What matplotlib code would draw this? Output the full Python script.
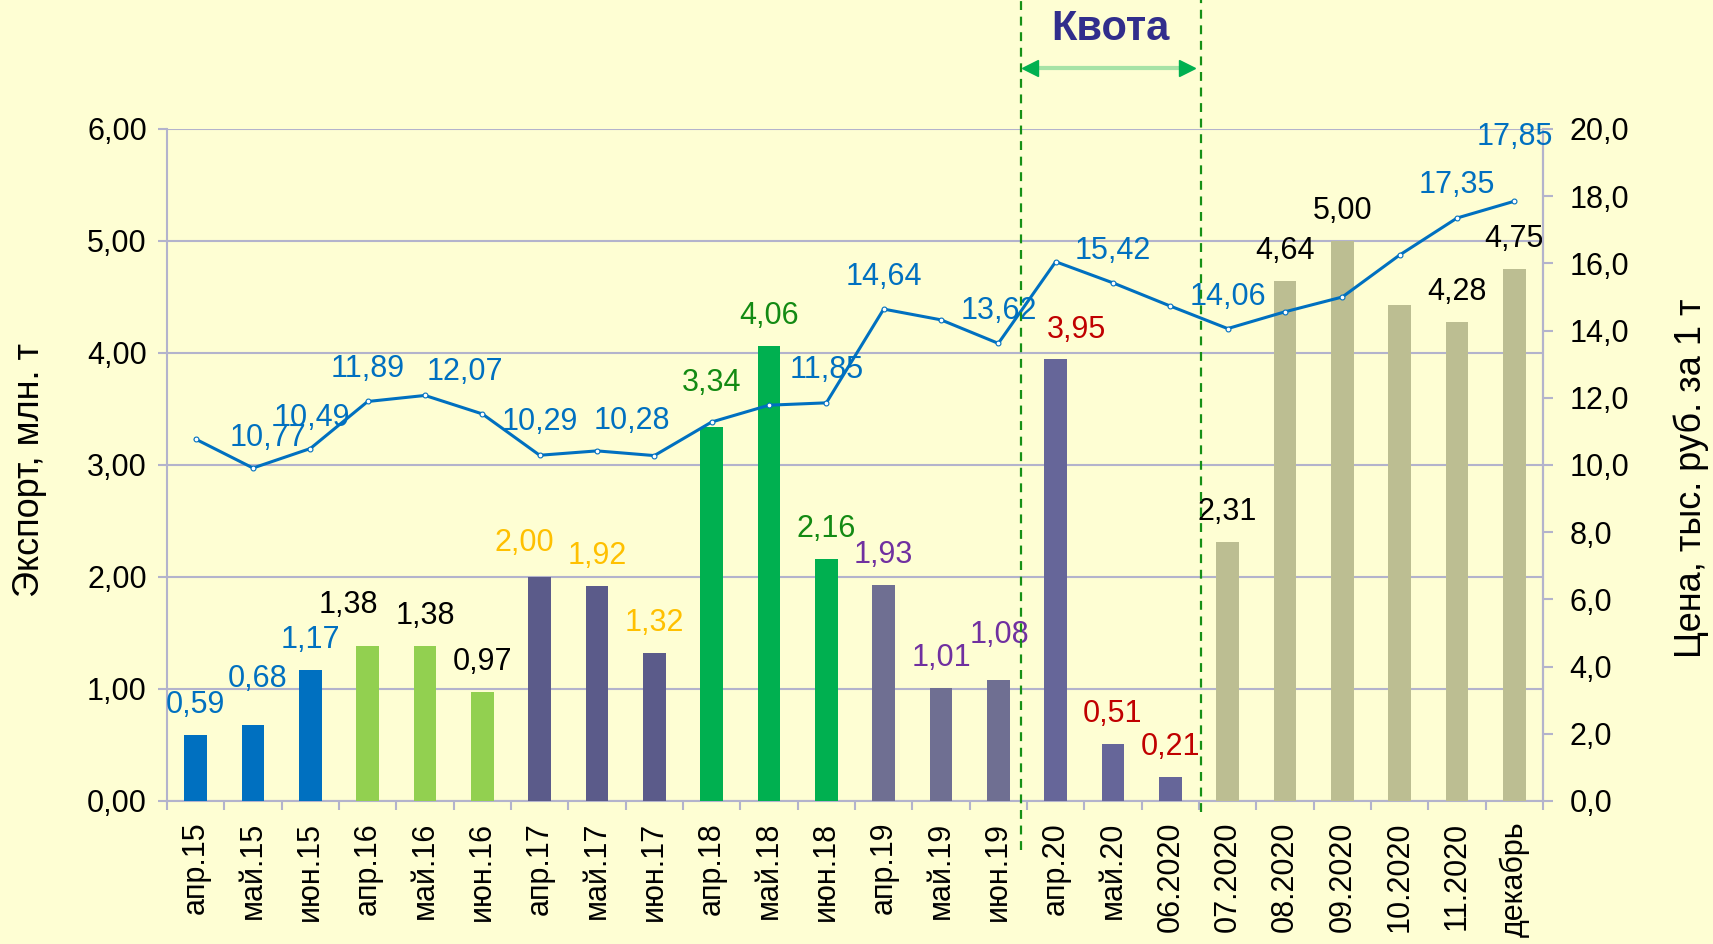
import matplotlib
matplotlib.use("Agg")
import matplotlib.pyplot as plt
from matplotlib.lines import Line2D
from matplotlib.transforms import blended_transform_factory
from matplotlib.ticker import FuncFormatter

plt.rcParams['font.family'] = ['Liberation Sans', 'DejaVu Sans']

# ---------------- data ----------------
categories = ["апр.15", "май.15", "июн.15", "апр.16", "май.16", "июн.16",
              "апр.17", "май.17", "июн.17", "апр.18", "май.18", "июн.18",
              "апр.19", "май.19", "июн.19", "апр.20", "май.20", "06.2020",
              "07.2020", "08.2020", "09.2020", "10.2020", "11.2020", "декабрь"]
export_mln_t = [0.59, 0.68, 1.17, 1.38, 1.38, 0.97,
                2.00, 1.92, 1.32, 3.34, 4.06, 2.16,
                1.93, 1.01, 1.08, 3.95, 0.51, 0.21,
                2.31, 4.64, 5.00, 4.43, 4.28, 4.75]
export_labeled = [True] * 21 + [False, True, True]
price_thous_rub = [10.77, 9.91, 10.49, 11.89, 12.07, 11.52,
                   10.29, 10.42, 10.28, 11.28, 11.78, 11.85,
                   14.64, 14.32, 13.62, 16.05, 15.42, 14.73,
                   14.06, 14.56, 15.00, 16.25, 17.35, 17.85]
price_labeled_idx = [0, 2, 3, 4, 6, 8, 11, 12, 14, 16, 18, 22, 23]
groups = ["2015"] * 3 + ["2016"] * 3 + ["2017"] * 3 + ["2018"] * 3 + \
         ["2019"] * 3 + ["2020q"] * 3 + ["2020"] * 6

# ---------------- styles ----------------
bar_colors = {"2015": "#0070C0", "2016": "#92D050", "2017": "#5B5B8A",
              "2018": "#00B050", "2019": "#6F6F92", "2020q": "#666699",
              "2020": "#BCBE92"}
label_colors = {"2015": "#0070C0", "2016": "#000000", "2017": "#FFC000",
                "2018": "#138A13", "2019": "#7030A0", "2020q": "#C00000",
                "2020": "#000000"}
bar_label_offsets = {1: (5, 46), 3: (-19, 41), 6: (-15, 34), 9: (0, 44),
                     14: (1, 45), 15: (21, 29)}
price_label_offsets = {0: (72, 1), 2: (2, 31), 3: (0, 32), 4: (40, 23),
                       6: (0, 33), 8: (-22, 35), 11: (0, 33), 12: (0, 32),
                       14: (0, 32), 16: (0, 32), 18: (0, 32), 22: (0, 33),
                       23: (0, 64)}
BG = "#FEFED3"
GRID = "#B3B3CC"
LINE = "#0070C0"

W, H = 1713, 944
fig = plt.figure(figsize=(W / 100, H / 100), dpi=100, facecolor=BG)
ax = fig.add_axes([167 / W, 1 - 801 / H, (1543 - 167) / W, (801 - 129) / H])
ax.set_facecolor(BG)

n = len(categories)
x = list(range(n))
ax.bar(x, export_mln_t, width=0.4,
       color=[bar_colors[g] for g in groups], zorder=3)
ax.set_xlim(-0.5, n - 0.5)
ax.set_ylim(0, 6)
ax.set_yticks([0, 1, 2, 3, 4, 5, 6])
ax.yaxis.set_major_formatter(FuncFormatter(lambda v, p: f"{v:.2f}".replace('.', ',')))
ax.grid(axis='y', color=GRID, linewidth=1.5, zorder=0)
ax.set_axisbelow(True)

ax.set_xticks(x)
ax.set_xticklabels(categories, rotation=90, va='top', ha='center', fontsize=22)
ax.set_xticks([i - 0.5 for i in range(n + 1)], minor=True)
ax.tick_params(axis='x', which='major', length=0, pad=15)
ax.tick_params(axis='x', which='minor', length=6.5, width=1.5, color=GRID,
               direction='out')
ax.tick_params(axis='y', labelsize=22, length=6.5, width=1.5, color=GRID, pad=8)

for s in ['left', 'bottom', 'right']:
    ax.spines[s].set_color(GRID)
    ax.spines[s].set_linewidth(1.5)
ax.spines['top'].set_visible(False)

for i, v in enumerate(export_mln_t):
    if not export_labeled[i]:
        continue
    dx, dy = bar_label_offsets.get(i, (0, 30))
    ax.annotate(f"{v:.2f}".replace('.', ','), xy=(i, v), xytext=(dx, dy),
                textcoords='offset pixels', ha='center', va='center',
                fontsize=22, color=label_colors[groups[i]], zorder=6)

ax2 = ax.twinx()
ax2.set_ylim(0, 20)
ax2.set_yticks([0, 2, 4, 6, 8, 10, 12, 14, 16, 18, 20])
ax2.yaxis.set_major_formatter(FuncFormatter(lambda v, p: f"{v:.1f}".replace('.', ',')))
ax2.tick_params(axis='y', labelsize=22, length=7, width=1.5, color=GRID, pad=12)
for s in ['left', 'bottom', 'top']:
    ax2.spines[s].set_visible(False)
ax2.spines['right'].set_color(GRID)
ax2.spines['right'].set_linewidth(1.5)
ax2.plot(x, price_thous_rub, color=LINE, linewidth=2.2, marker='o',
         markersize=3.5, markerfacecolor='white', markeredgecolor=LINE,
         markeredgewidth=0.8, zorder=5)
for i in price_labeled_idx:
    v = price_thous_rub[i]
    dx, dy = price_label_offsets[i]
    ax2.annotate(f"{v:.2f}".replace('.', ','), xy=(i, v), xytext=(dx, dy),
                 textcoords='offset pixels', ha='center', va='center',
                 fontsize=22, color=LINE, zorder=7)

# axis titles
fig.text(30 / W, 1 - 470 / H, "Экспорт, млн. т", rotation=90, fontsize=26,
         ha='center', va='center')
fig.text(1691 / W, 1 - 478 / H, "Цена, тыс. руб. за 1 т", rotation=90,
         fontsize=26, ha='center', va='center')

# quota markers
def fx(px):
    return px / W

def fy(py):
    return 1 - py / H

for px, ybot in [(1021, 850), (1201, 812)]:
    fig.add_artist(Line2D([fx(px), fx(px)], [fy(ybot), 1.0], transform=fig.transFigure,
                          color="#169016", linewidth=1.6, linestyle=(0, (4, 3))))
fig.add_artist(Line2D([fx(1030), fx(1187)], [fy(67.5), fy(67.5)],
                      transform=fig.transFigure, color="#A6E3A6", linewidth=3))
fig.add_artist(Line2D([fx(1030)], [fy(67.5)], transform=fig.transFigure,
                      marker='<', markersize=11, color="#00B050", linestyle='none'))
fig.add_artist(Line2D([fx(1187)], [fy(67.5)], transform=fig.transFigure,
                      marker='>', markersize=11, color="#00B050", linestyle='none'))
fig.text(fx(1110), fy(29), "Квота", fontsize=30, fontweight='bold',
         color="#312E8C", ha='center', va='center')

fig.savefig("out.png", dpi=100, facecolor=BG)
